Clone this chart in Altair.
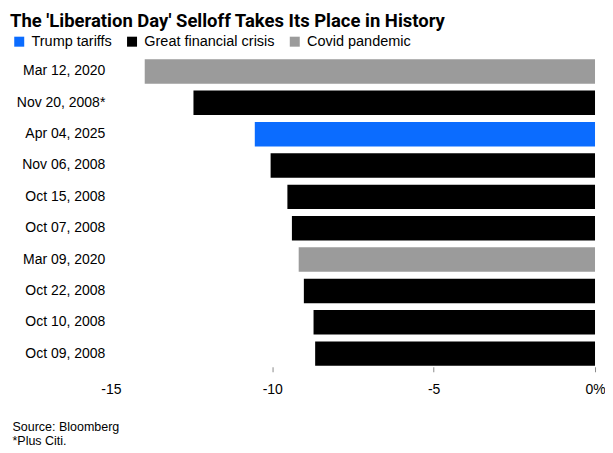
import altair as alt
import pandas as pd

dates = ["Mar 12, 2020", "Nov 20, 2008*", "Apr 04, 2025", "Nov 06, 2008", "Oct 15, 2008",
         "Oct 07, 2008", "Mar 09, 2020", "Oct 22, 2008", "Oct 10, 2008", "Oct 09, 2008"]
changes = [-13.95, -12.44, -10.54, -10.05, -9.53, -9.39, -9.18, -9.02, -8.72, -8.67]
episodes = ["Covid pandemic", "Great financial crisis", "Trump tariffs", "Great financial crisis",
            "Great financial crisis", "Great financial crisis", "Covid pandemic",
            "Great financial crisis", "Great financial crisis", "Great financial crisis"]
legend_order = ["Trump tariffs", "Great financial crisis", "Covid pandemic"]
legend_colors = ["#0b6cff", "#000000", "#9b9b9b"]
x_ticks = [-15, -10, -5, 0]

df = pd.DataFrame({"date": dates, "change": changes, "episode": episodes})

FONT = "Liberation Sans"

chart = alt.Chart(df).mark_bar().encode(
    x=alt.X("change:Q",
            scale=alt.Scale(domain=[-15, 0], nice=False, zero=False),
            axis=alt.Axis(values=x_ticks, grid=False, domain=False,
                          tickSize=5, tickColor="#8a8a8a", tickWidth=1,
                          tickOpacity={"condition": {"test": "datum.value == -15", "value": 0}, "value": 1},
                          labelExpr="datum.value == 0 ? '0%' : '' + datum.value",
                          labelFlush=False,
                          labelFont=FONT, labelFontSize=14, labelColor="#000000",
                          labelPadding=11,
                          title=["Source: Bloomberg", "*Plus Citi."],
                          titleFont=FONT, titleFontSize=12.5, titleFontWeight="normal",
                          titleColor="#000000", titleAnchor="start", titleAlign="left",
                          titleBaseline="top", titleLineHeight=14,
                          titleX=-99, titleY=54)),
    y=alt.Y("date:N", sort=dates,
            scale=alt.Scale(paddingInner=0.22, paddingOuter=0.03),
            axis=alt.Axis(title=None, ticks=False, domain=False, grid=False,
                          labelFont=FONT, labelFontSize=14, labelColor="#000000",
                          labelPadding=6)),
    color=alt.Color("episode:N",
                    scale=alt.Scale(domain=legend_order, range=legend_colors),
                    legend=alt.Legend(title=None, orient="none", direction="horizontal",
                                      legendX=-99, legendY=-24,
                                      symbolType="square", symbolSize=100,
                                      symbolStrokeWidth=0, symbolOpacity=1,
                                      labelFont=FONT, labelFontSize=14.5,
                                      labelColor="#000000", labelOffset=5,
                                      columnPadding=12)),
).properties(
    width=485,
    height=309,
    title=alt.TitleParams("The 'Liberation Day' Selloff Takes Its Place in History",
                          font="Roboto", fontSize=18.5, fontWeight="bold",
                          color="#000000", anchor="start", frame="bounds", dx=-2),
    padding={"left": 103, "top": 50, "right": 10, "bottom": 84},
    autosize=alt.AutoSizeParams(type="none"),
).configure_view(stroke=None)

chart.save("out.html", embed_options={"renderer": "svg", "actions": False})
